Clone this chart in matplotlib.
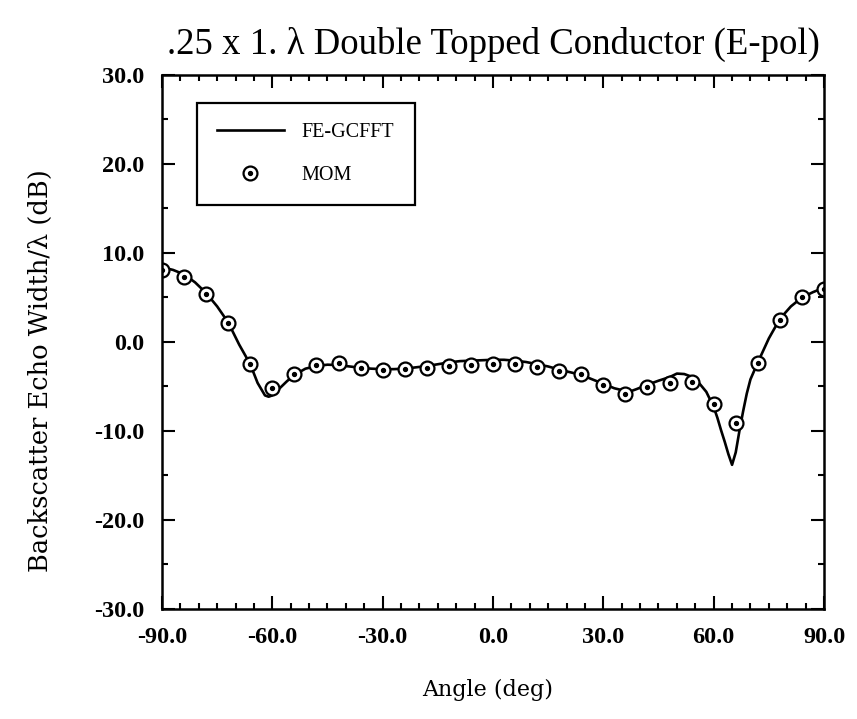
from matplotlib import pyplot as plt
from matplotlib.legend_handler import HandlerTuple
from matplotlib.ticker import MultipleLocator, FormatStrFormatter

plt.rcParams['font.family'] = ['Liberation Serif', 'DejaVu Serif']

# FE-GCFFT curve
fe_angle = [-90, -87, -84, -81, -78, -75, -72, -69, -66, -64, -62, -61, -60, -58, -56, -54,
            -51, -48, -45, -42, -39, -36, -33, -30, -27, -24, -21, -18, -15, -12, -9, -6, -3,
            0, 3, 6, 9, 12, 15, 18, 21, 24, 27, 30, 33, 36, 37, 39, 42, 45, 48, 50, 52, 54,
            56, 58, 60, 61, 62, 63, 64, 65, 66, 67, 68, 69, 70, 72, 75, 78, 81, 84, 87, 90]
fe_db = [8.4, 8.1, 7.6, 6.7, 5.5, 4.0, 2.2, -0.3, -2.5, -4.6, -6.0, -6.15, -6.0, -5.2, -4.4, -3.7,
         -3.0, -2.7, -2.55, -2.6, -2.75, -2.9, -3.0, -3.05, -3.05, -3.0, -2.85, -2.7, -2.5, -2.3,
         -2.15, -2.1, -2.05, -2.0, -2.0, -2.1, -2.25, -2.5, -2.75, -3.1, -3.4, -3.7, -4.2, -4.7,
         -5.2, -5.5, -5.6, -5.3, -4.8, -4.35, -3.95, -3.55, -3.6, -3.9, -4.6, -5.6, -7.3, -8.5,
         -9.9, -11.2, -12.6, -13.8, -12.4, -10.0, -7.8, -5.8, -4.2, -2.3, 0.4, 2.6, 4.0, 5.0,
         5.6, 6.1]

# MOM samples every 6 degrees
mom_angle = list(range(-90, 91, 6))
mom_db = [8.1, 7.35, 5.4, 2.1, -2.5, -5.15, -3.65, -2.6, -2.4, -2.9, -3.1, -3.0, -2.9, -2.65,
          -2.6, -2.5, -2.43, -2.76, -3.28, -3.62, -4.81, -5.82, -5.11, -4.63, -4.55, -6.98,
          -9.14, -2.31, 2.46, 5.0, 5.93]

fig = plt.figure(figsize=(8.57, 7.19), dpi=100)
ax = fig.add_axes([0.189, 0.153, 0.7725, 0.7427])

line, = ax.plot(fe_angle, fe_db, "-", color="black", lw=1.9)
ring, = ax.plot(mom_angle, mom_db, "o", ms=10, mfc="white", mec="black", mew=1.6, ls="none")
dot, = ax.plot(mom_angle, mom_db, "o", ms=2.8, color="black", ls="none")

ax.set_xlim(-90, 90)
ax.set_ylim(-30, 30)
ax.xaxis.set_major_locator(MultipleLocator(30))
ax.xaxis.set_minor_locator(MultipleLocator(5))
ax.yaxis.set_major_locator(MultipleLocator(10))
ax.yaxis.set_minor_locator(MultipleLocator(5))
ax.xaxis.set_major_formatter(FormatStrFormatter("%.1f"))
ax.yaxis.set_major_formatter(FormatStrFormatter("%.1f"))
ax.tick_params(which="both", direction="in", top=True, right=True, width=1.5,
               labelsize=17.5)
ax.tick_params(which="major", length=9.5, pad=13)
ax.tick_params(which="minor", length=4.5)
for lab in ax.get_xticklabels() + ax.get_yticklabels():
    lab.set_fontweight("bold")
for s in ax.spines.values():
    s.set_linewidth(1.8)

ax.set_title(".25 x 1. \u03bb Double Topped Conductor (E-pol)", fontsize=26.5, pad=15)
ax.set_xlabel("Angle (deg)", fontsize=16, family="DejaVu Serif", va="center")
ax.xaxis.set_label_coords(0.492, -0.152)
ax.set_ylabel("Backscatter Echo Width/\u03bb (dB)", fontsize=18.5, family="DejaVu Serif",
              va="center")
ax.yaxis.set_label_coords(-0.184, 0.447)

leg = ax.legend([line, (ring, dot)], ["FE-GCFFT", "MOM"],
                handler_map={tuple: HandlerTuple(ndivide=1)}, numpoints=1,
                loc="upper left", bbox_to_anchor=(0.053, 0.948), fontsize=14.5,
                frameon=True, fancybox=False, edgecolor="black", framealpha=1,
                borderpad=1.0, labelspacing=1.2, handlelength=3.3, handletextpad=0.9,
                borderaxespad=0)
leg.get_frame().set_linewidth(1.6)

fig.savefig("out.png")
plt.close()
